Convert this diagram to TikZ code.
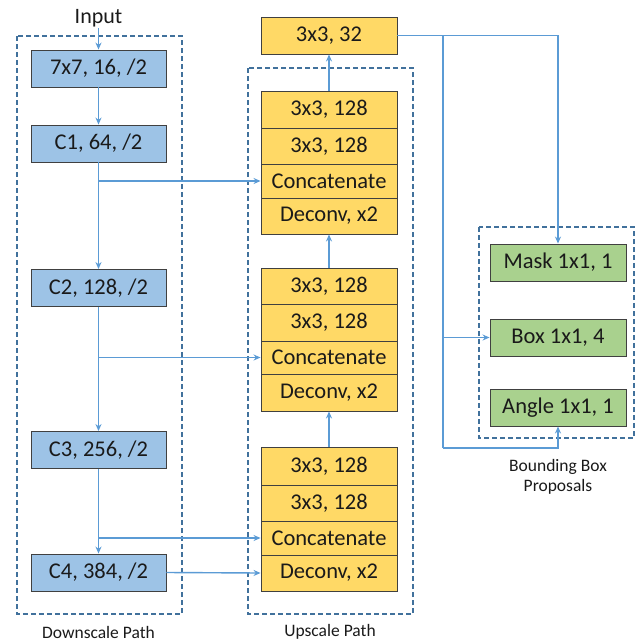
\documentclass[tikz,border=0pt]{standalone}
\usepackage{fontspec}
\setmainfont{Carlito}
\usetikzlibrary{arrows.meta}
\definecolor{bluefill}{HTML}{9DC3E6}
\definecolor{yellowfill}{HTML}{FFD966}
\definecolor{greenfill}{HTML}{A9D18E}
\definecolor{linkcol}{HTML}{5B9BD5}
\definecolor{dashcol}{HTML}{41719C}
\definecolor{edgecol}{HTML}{404040}
\definecolor{txt}{HTML}{1A1A1A}
\tikzset{
  boxbase/.style={draw=edgecol, line width=0.9pt, minimum width=135pt, inner sep=0pt, text=txt, font=\fontsize{22.5}{25}\selectfont},
  bluebox/.style={boxbase, fill=bluefill, minimum height=37pt},
  ybox/.style={boxbase, fill=yellowfill, minimum width=136pt},
  gbox/.style={boxbase, fill=greenfill, minimum width=136pt, minimum height=37pt},
  link/.style={draw=linkcol, line width=1.4pt, -{Stealth[length=7pt,width=6pt]}},
  plain/.style={draw=linkcol, line width=1.4pt},
  dashbox/.style={draw=dashcol, line width=1.4pt, dash pattern=on 5pt off 3pt},
  lbl/.style={text=txt, font=\fontsize{17.5}{21}\selectfont, inner sep=0pt}
}
\begin{document}
\begin{tikzpicture}[x=1pt,y=-1pt]
\useasboundingbox (0,0) rectangle (635,641);
% dashed groups
\draw[dashbox] (17,36) rectangle (182,614);
\draw[dashbox] (248,68) rectangle (413,614);
\draw[dashbox] (479,227) rectangle (634,438);
% downscale path
\node[text=txt, font=\fontsize{22}{24}\selectfont, inner sep=1pt] (in) at (98.5,18) {Input};
\node[bluebox] (b0) at (98.5,68.5) {7x7, 16, /2};
\node[bluebox] (b1) at (98.5,143.5) {C1, 64, /2};
\node[bluebox] (b2) at (98.5,288) {C2, 128, /2};
\node[bluebox] (b3) at (98.5,450) {C3, 256, /2};
\node[bluebox] (b4) at (98.5,572.5) {C4, 384, /2};
% upscale path
\node[ybox, minimum height=37pt] (top) at (329,35.5) {3x3, 32};
\node[ybox, minimum height=37pt] (r11) at (329,109.5) {3x3, 128};
\node[ybox, minimum height=36pt] (r12) at (329,146) {3x3, 128};
\node[ybox, minimum height=34pt] (cat1) at (329,181) {Concatenate};
\node[ybox, minimum height=36pt] (dec1) at (329,216) {Deconv, x2};
\node[ybox, minimum height=37pt] (r21) at (329,286.5) {3x3, 128};
\node[ybox, minimum height=37pt] (r22) at (329,322.5) {3x3, 128};
\node[ybox, minimum height=33pt] (cat2) at (329,357.5) {Concatenate};
\node[ybox, minimum height=37pt] (dec2) at (329,392.5) {Deconv, x2};
\node[ybox, minimum height=38pt] (r31) at (329,466) {3x3, 128};
\node[ybox, minimum height=36pt] (r32) at (329,503) {3x3, 128};
\node[ybox, minimum height=34pt] (cat3) at (329,538) {Concatenate};
\node[ybox, minimum height=36pt] (dec3) at (329,573) {Deconv, x2};
% bounding box proposals
\node[gbox] (mask) at (558,262.5) {Mask 1x1, 1};
\node[gbox] (boxn) at (558,337.5) {Box 1x1, 4};
\node[gbox] (angle) at (558,407.5) {Angle 1x1, 1};
% labels
\node[lbl] (dl) at (98.5,632) {Downscale Path};
\node[lbl] (ul) at (330,632) {Upscale Path};
\node[lbl, align=center] (bl) at (558,477) {Bounding Box\\[-1pt]Proposals};
% connectors downscale
\draw[link] (in.south) -- (b0.north);
\draw[link] (b0.south) -- (b1.north);
\draw[link] (b1.south) -- (b2.north);
\draw[link] (b2.south) -- (b3.north);
\draw[link] (b3.south) -- (b4.north);
\draw[link] (b1.south |- cat1.west) -- (cat1.west);
\draw[link] (b2.south |- cat2.west) -- (cat2.west);
\draw[link] (b3.south |- cat3.west) -- (cat3.west);
\draw[link] (b4.east) -- (dec3.west);
% connectors upscale
\draw[link] (r31.north) -- (dec2.south);
\draw[link] (r21.north) -- (dec1.south);
\draw[link] (r11.north) -- (top.south);
% to proposals
\coordinate (sx) at (443,35.5);
\coordinate (ly) at (443,448);
\draw[link] (top.east) -| (mask.north);
\draw[link] (sx) |- (boxn.west);
\draw[plain] (sx) -- (ly);
\draw[link] (ly) -| (angle.south);
\end{tikzpicture}
\end{document}
